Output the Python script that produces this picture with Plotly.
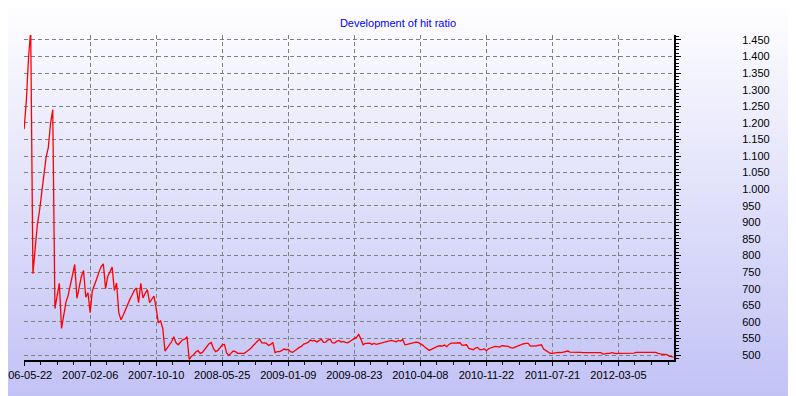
import plotly.graph_objects as go

# ---- data -------------------------------------------------------------
tick_labels = ["2006-05-22", "2007-02-06", "2007-10-10", "2008-05-25", "2009-01-09",
               "2009-08-23", "2010-04-08", "2010-11-22", "2011-07-21", "2012-03-05"]
label_step = 30  # observations between two date labels

hit_ratio = [
    1181, 1265, 1395, 1480, 745, 832, 892, 935, 998, 1043,
    1096, 1126, 1198, 1240, 640, 675, 716, 580, 625, 659,
    680, 714, 739, 773, 671, 703, 736, 755, 674, 688,
    628, 694, 710, 730, 750, 767, 775, 700, 737, 754,
    765, 695, 717, 628, 606, 620, 636, 654, 667, 680,
    694, 702, 658, 716, 672, 686, 697, 658, 669, 678,
    640, 597, 603, 580, 512, 521, 529, 540, 555, 537,
    531, 540, 546, 548, 555, 487, 496, 501, 509, 513,
    505, 508, 517, 526, 534, 538, 520, 510, 514, 522,
    531, 532, 506, 499, 505, 512, 510, 505, 505, 504,
    505, 510, 515, 520, 528, 535, 542, 548, 537, 537,
    536, 529, 532, 538, 507, 510, 510, 513, 518, 516,
    517, 510, 508, 513, 519, 523, 526, 533, 535, 538,
    545, 543, 544, 539, 544, 548, 538, 539, 545, 548,
    537, 536, 541, 544, 539, 541, 538, 537, 541, 546,
    550, 553, 562, 548, 531, 535, 536, 536, 532, 535,
    532, 534, 535, 538, 541, 541, 543, 544, 542, 540,
    544, 542, 547, 531, 532, 534, 536, 539, 539, 538,
    535, 530, 524, 520, 514, 517, 521, 524, 527, 528,
    527, 530, 525, 532, 536, 536, 536, 535, 537, 529,
    529, 531, 520, 518, 516, 521, 523, 516, 516, 519,
    513, 519, 521, 524, 526, 525, 524, 528, 527, 528,
    526, 522, 521, 524, 527, 530, 531, 534, 535, 535,
    527, 527, 526, 528, 530, 531, 518, 513, 508, 505,
    505, 507, 507, 508, 507, 509, 511, 512, 509, 509,
    509, 508, 510, 508, 507, 507, 507, 507, 507, 508,
    509, 509, 507, 503, 505, 505, 505, 507, 506, 504,
    505, 505, 504, 505, 504, 504, 505, 506, 508, 508,
    508, 508, 509, 509, 510, 510, 510, 508, 505, 503,
    502, 502, 501, 497, 496, 494,
]

y_min, y_max = 485, 1465
y_tick_start, y_tick_step, y_minor_step = 500, 50, 10

# ---- figure -----------------------------------------------------------
obs_index = list(range(len(hit_ratio)))
tick_positions = [k * label_step for k in range(len(tick_labels))]

W, H = 796, 396
OFF = 8  # page body margin that offsets the figure inside the window
M_L, M_R, M_T, M_B = 24 - OFF, 122 + OFF, 35 - OFF, 36 + OFF
plot_h = H - M_T - M_B
plot_w = W - M_L - M_R

fig = go.Figure()
fig.add_trace(go.Scatter(
    x=obs_index, y=hit_ratio, mode="lines",
    line=dict(color="#ff0000", width=1.3),
    hoverinfo="skip", showlegend=False,
))

# vertical background gradient (white -> lavender) built from thin strips
top_rgb = (255, 255, 255)
bot_rgb = (194, 194, 246)
n_strips = 99
strip = H / n_strips
shapes = []
for k in range(n_strips):
    t = (k * strip + OFF + strip / 2) / H
    t = min(t, 1.0)
    col = tuple(round(top_rgb[c] + (bot_rgb[c] - top_rgb[c]) * t) for c in range(3))
    y_top_px = k * strip
    y_bot_px = (k + 1) * strip + 0.6
    shapes.append(dict(
        type="rect", xref="paper", yref="paper", layer="below",
        x0=-0.2, x1=1.4,
        y0=(H - M_B - y_bot_px) / plot_h, y1=(H - M_B - y_top_px) / plot_h,
        fillcolor="rgb(%d,%d,%d)" % col, line=dict(width=0),
    ))

grid = dict(gridcolor="#808080", gridwidth=1, griddash="4px,3px")

fig.update_layout(
    width=W, height=H,
    margin=dict(l=M_L, r=M_R, t=M_T, b=M_B, autoexpand=False),
    paper_bgcolor="white", plot_bgcolor="rgba(0,0,0,0)",
    shapes=shapes,
    separators=",.",
    title=dict(text="Development of hit ratio", x=(398 - OFF) / W, xref="container", xanchor="center",
               y=1 - (23 - OFF) / H, yref="container", yanchor="middle",
               font=dict(family="Liberation Sans, Arial, sans-serif", size=11, color="#0000ff")),
    font=dict(family="Liberation Sans, Arial, sans-serif", size=11, color="black"),
    xaxis=dict(
        range=[-0.05, (plot_w - 0.5) / 2.2],
        tickmode="array", tickvals=tick_positions, ticktext=tick_labels,
        ticklabeloverflow="allow", automargin=False,
        showgrid=True, **grid,
        showline=True, linecolor="black", linewidth=2,
        ticks="outside", ticklen=4, tickcolor="black", tickwidth=1,
        minor=dict(dtick=label_step / 4, tick0=0, ticks="outside", ticklen=3,
                   tickcolor="black", showgrid=False),
        zeroline=False, fixedrange=True,
        tickfont=dict(size=11, color="black"),
    ),
    yaxis=dict(
        side="right", range=[y_min, y_max],
        tick0=y_tick_start, dtick=y_tick_step, tickformat=",d",
        automargin=False,
        showgrid=True, **grid,
        showline=True, linecolor="black", linewidth=2,
        ticks="outside", ticklen=5, tickcolor="black", tickwidth=1,
        minor=dict(dtick=y_minor_step, tick0=y_tick_start, ticks="outside", ticklen=3,
                   tickcolor="black", showgrid=False),
        ticklabelstandoff=59,
        zeroline=False, fixedrange=True,
        tickfont=dict(size=11, color="black"),
    ),
)

fig.write_html("out.html")
